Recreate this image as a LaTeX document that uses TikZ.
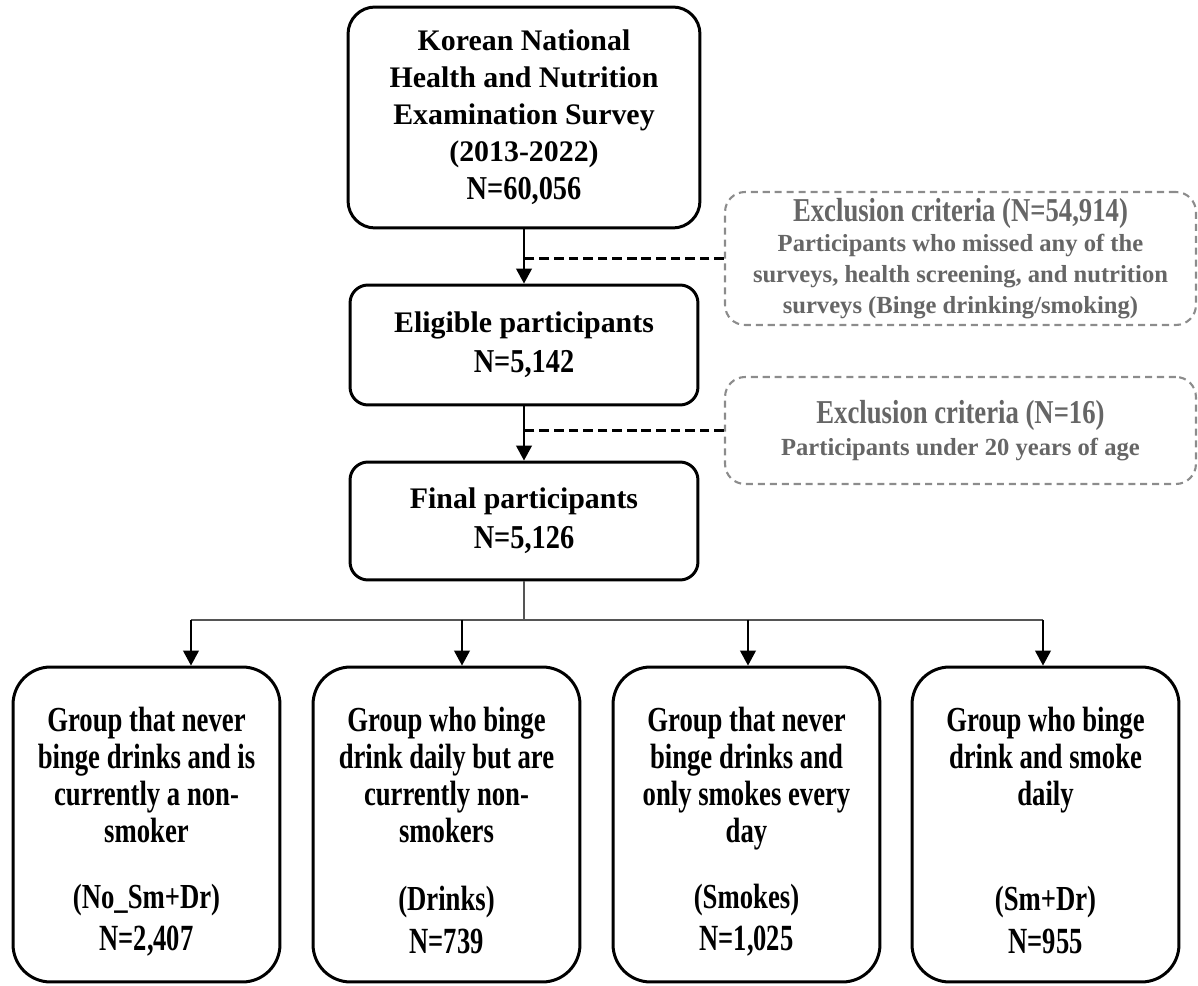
\documentclass[tikz,border=0pt]{standalone}
\usepackage{fontspec}
\setmainfont{Liberation Serif}
\newfontfamily\condA{Liberation Serif}[FakeStretch=0.76]
\newfontfamily\condB{Liberation Serif}[FakeStretch=0.85]
\newfontfamily\condC{Liberation Serif}[FakeStretch=0.8]
\newfontfamily\condD{Liberation Serif}[FakeStretch=0.72]
\usetikzlibrary{arrows.meta,calc}
\definecolor{exgray}{HTML}{666666}
\definecolor{dashgray}{HTML}{8C8C8C}
\definecolor{branchgray}{HTML}{555555}
\begin{document}
\begin{tikzpicture}[x=0.02cm,y=-0.02cm,
  mainbox/.style={draw=black, fill=white, line width=1.7pt, inner sep=0pt, align=center,
    font=\bfseries\fontsize{17}{21}\selectfont},
  exbox/.style={draw=dashgray, line width=1.2pt, dash pattern=on 4pt off 2.8pt,
    rounded corners=0.4cm, inner sep=0pt, align=center, text=exgray,
    font=\bfseries\fontsize{14}{17.5}\selectfont},
  grpbox/.style={draw=black, line width=1.7pt, rounded corners=0.75cm,
    minimum width=5.34cm, minimum height=6.3cm, inner sep=0pt},
  grptext/.style={inner sep=0pt, align=center, font=\condA\bfseries\fontsize{20}{21}\selectfont},
  arr/.style={line width=0.9pt, -{Triangle[width=9pt,length=8.5pt]}},
  dashline/.style={line width=1.3pt, dash pattern=on 5.5pt off 2.8pt},
  branchline/.style={line width=0.8pt, draw=branchgray},
  arrB/.style={line width=0.8pt, -{Triangle[width=9pt,length=8.5pt]}}
]
\useasboundingbox (0,0) rectangle (1198,986);

% central column
\node[mainbox, rounded corners=0.54cm, minimum width=7.04cm, minimum height=4.42cm] (src) at (524,117.5)
  {Korean National\\Health and Nutrition\\Examination Survey\\(2013-2022)\\[1pt]{\condB\fontsize{19}{22}\selectfont N=60,056}};
\node[mainbox, rounded corners=0.36cm, minimum width=6.96cm, minimum height=2.4cm] (elig) at (524,345)
  {Eligible participants\\[2pt]{\condB\fontsize{19}{22}\selectfont N=5,142}};
\node[mainbox, rounded corners=0.36cm, minimum width=6.96cm, minimum height=2.36cm] (final) at (524,521)
  {Final participants\\[2pt]{\condB\fontsize{19}{22}\selectfont N=5,126}};

% exclusion boxes
\node[exbox, minimum width=9.42cm, minimum height=2.66cm] (ex1) at (960.5,258.5)
  {{\condC\fontsize{19}{20}\selectfont Exclusion criteria (N=54,914)}\\Participants who missed any of the\\surveys, health screening, and nutrition\\surveys (Binge drinking/smoking)};
\node[exbox, minimum width=9.42cm, minimum height=2.14cm] (ex2) at (960.5,430.5)
  {{\condC\fontsize{19}{20}\selectfont Exclusion criteria (N=16)}\\[1pt]Participants under 20 years of age};

\draw[arr] (src.south) -- (elig.north);
\draw[arr] (elig.south) -- (final.north);
\draw[dashline] (ex1.west) -- (ex1.west -| src.south);
\draw[dashline] (ex2.west) -- (ex2.west -| elig.south);

% group boxes
\node[grpbox] (g1) at (146.5,824.5) {};
\node[grpbox] (g2) at (446.5,824.5) {};
\node[grpbox] (g3) at (746.5,824.5) {};
\node[grpbox] (g4) at (1045.5,824.5) {};

\node[grptext, anchor=north] (d1) at (146.5,707) {Group that never\\binge drinks and is\\currently a non-\\smoker};
\node[grptext, anchor=north] (d2) at (446.5,707) {Group who binge\\drink daily but are\\currently non-\\smokers};
\node[grptext, anchor=north] (d3) at (746.5,707) {Group that never\\binge drinks and\\only smokes every\\day};
\node[grptext, anchor=north] (d4) at (1045.5,707) {Group who binge\\drink and smoke\\daily};

\node[grptext] (l1) at (146.5,920) {(No\_Sm+Dr)\\[3pt]{\condD\fontsize{21}{22}\selectfont N=2,407}};
\node[grptext] (l2) at (446.5,920) {(Drinks)\\[3pt]{\condD\fontsize{21}{22}\selectfont N=739}};
\node[grptext] (l3) at (746.5,920) {(Smokes)\\[3pt]{\condD\fontsize{21}{22}\selectfont N=1,025}};
\node[grptext] (l4) at (1045.5,920) {(Sm+Dr)\\[3pt]{\condD\fontsize{21}{22}\selectfont N=955}};

% branch
\coordinate (bar) at (524,620);
\coordinate (t1) at ([xshift=0.89cm]g1.north);
\coordinate (t2) at ([xshift=0.31cm]g2.north);
\coordinate (t3) at ([xshift=0.03cm]g3.north);
\coordinate (t4) at ([xshift=-0.05cm]g4.north);
\draw[branchline] (final.south) -- (bar);
\draw[branchline] (t1 |- bar) -- (t4 |- bar);
\foreach \i in {1,...,4} \draw[arrB] (t\i |- bar) -- (t\i);
\end{tikzpicture}
\end{document}
